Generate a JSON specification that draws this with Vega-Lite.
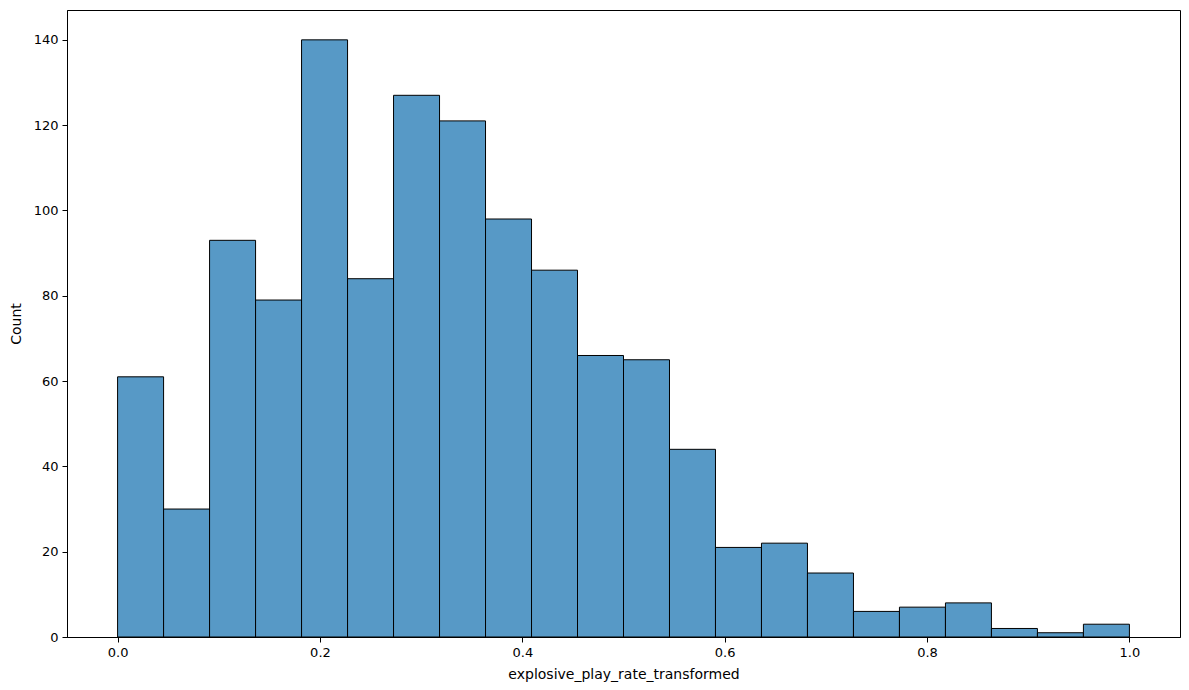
{
  "$schema": "https://vega.github.io/schema/vega-lite/v6.json",
  "autosize": "none",
  "width": 1113,
  "height": 627,
  "padding": {"left": 67, "top": 10, "right": 9, "bottom": 53},
  "background": "white",
  "config": {
    "font": "DejaVu Sans",
    "view": {"stroke": "black", "strokeWidth": 1},
    "axis": {
      "domainColor": "black",
      "tickColor": "black",
      "labelColor": "black",
      "titleColor": "black",
      "labelFont": "DejaVu Sans",
      "titleFont": "DejaVu Sans",
      "labelFontSize": 13,
      "titleFontSize": 14,
      "titleFontWeight": "normal",
      "tickSize": 5,
      "grid": false
    }
  },
  "data": {
    "values": [
      {"bin_start": 0.0, "bin_end": 0.045455, "count": 61},
      {"bin_start": 0.045455, "bin_end": 0.090909, "count": 30},
      {"bin_start": 0.090909, "bin_end": 0.136364, "count": 93},
      {"bin_start": 0.136364, "bin_end": 0.181818, "count": 79},
      {"bin_start": 0.181818, "bin_end": 0.227273, "count": 140},
      {"bin_start": 0.227273, "bin_end": 0.272727, "count": 84},
      {"bin_start": 0.272727, "bin_end": 0.318182, "count": 127},
      {"bin_start": 0.318182, "bin_end": 0.363636, "count": 121},
      {"bin_start": 0.363636, "bin_end": 0.409091, "count": 98},
      {"bin_start": 0.409091, "bin_end": 0.454545, "count": 86},
      {"bin_start": 0.454545, "bin_end": 0.5, "count": 66},
      {"bin_start": 0.5, "bin_end": 0.545455, "count": 65},
      {"bin_start": 0.545455, "bin_end": 0.590909, "count": 44},
      {"bin_start": 0.590909, "bin_end": 0.636364, "count": 21},
      {"bin_start": 0.636364, "bin_end": 0.681818, "count": 22},
      {"bin_start": 0.681818, "bin_end": 0.727273, "count": 15},
      {"bin_start": 0.727273, "bin_end": 0.772727, "count": 6},
      {"bin_start": 0.772727, "bin_end": 0.818182, "count": 7},
      {"bin_start": 0.818182, "bin_end": 0.863636, "count": 8},
      {"bin_start": 0.863636, "bin_end": 0.909091, "count": 2},
      {"bin_start": 0.909091, "bin_end": 0.954545, "count": 1},
      {"bin_start": 0.954545, "bin_end": 1.0, "count": 3}
    ]
  },
  "mark": {"type": "rect", "fill": "#5799c6", "stroke": "black", "strokeWidth": 1},
  "encoding": {
    "x": {
      "field": "bin_start",
      "type": "quantitative",
      "scale": {"domain": [-0.05, 1.05], "nice": false, "zero": false},
      "axis": {"values": [0, 0.2, 0.4, 0.6, 0.8, 1.0], "format": ".1f", "title": "explosive_play_rate_transformed", "titlePadding": 8, "labelPadding": 4}
    },
    "x2": {"field": "bin_end"},
    "y": {
      "field": "count",
      "type": "quantitative",
      "scale": {"domain": [0, 147], "nice": false},
      "axis": {"values": [0, 20, 40, 60, 80, 100, 120, 140], "title": "Count", "titlePadding": 10, "labelPadding": 4}
    }
  }
}
